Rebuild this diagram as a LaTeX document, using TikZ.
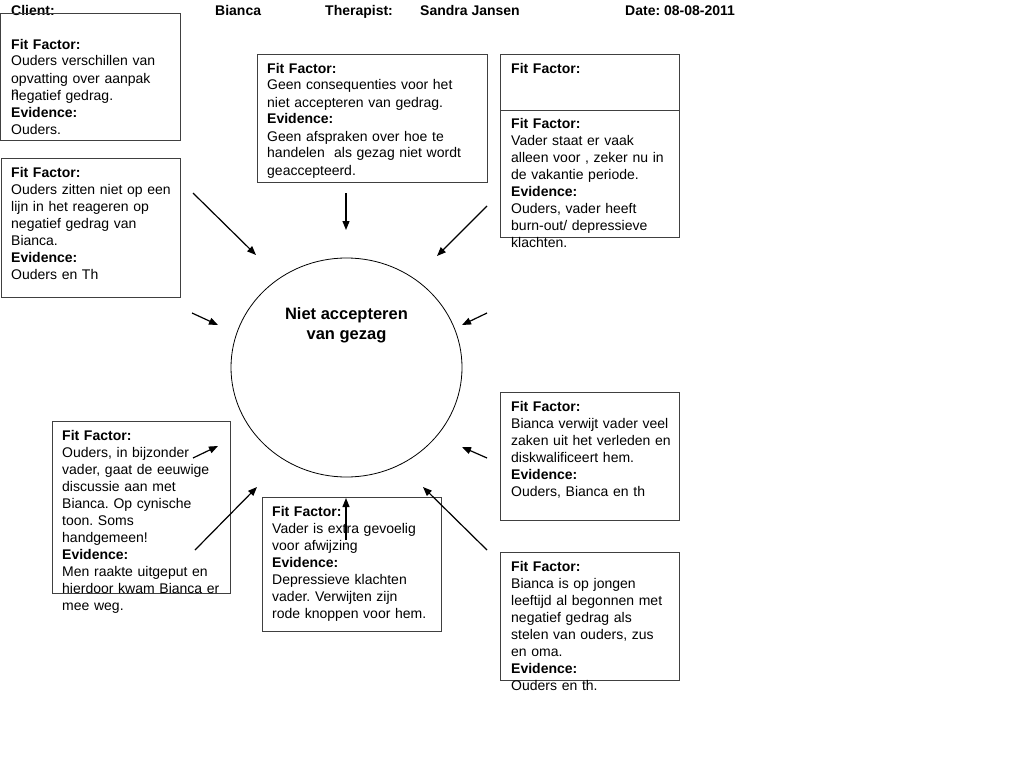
\documentclass[tikz,border=0pt]{standalone}
\usepackage{fontspec}
\setmainfont{Liberation Sans}
\usetikzlibrary{arrows.meta}
\frenchspacing
\tikzset{
  frame/.style={draw=black!75, line width=1.1pt, inner sep=0pt, anchor=north west},
  txt/.style={anchor=base west, inner sep=0pt, text width=215pt, align=left,
    font=\fontsize{14}{17}\selectfont\frenchspacing},
  hdr/.style={anchor=base west, inner sep=0pt, font=\fontsize{14}{17}\selectfont\bfseries},
  arr/.style={draw=black, line width=1.2pt, -{Triangle[length=9pt,width=7pt]}},
}
\begin{document}
\begin{tikzpicture}[x=1pt,y=-1pt]
\useasboundingbox (0,0) rectangle (1024,768);
% header
\node[hdr] (h1) at (11,16) {Client:};
\node[hdr] (h2) at (215,16) {Bianca};
\node[hdr] (h3) at (325,16) {Therapist:};
\node[hdr] (h4) at (420,16) {Sandra Jansen};
\node[hdr] (h5) at (625,16) {Date: 08-08-2011};
% frames
\node[frame, minimum width=180pt, minimum height=127pt] (f1) at (0,13) {};
\node[frame, minimum width=179pt, minimum height=139pt] (f2) at (1,158) {};
\node[frame, minimum width=230pt, minimum height=128pt] (f3) at (257,54) {};
\node[frame, minimum width=179pt, minimum height=56pt] (f4) at (500,54) {};
\node[frame, minimum width=179pt, minimum height=127pt] (f5) at (500,110) {};
\node[frame, minimum width=178pt, minimum height=172pt] (f6) at (52,421) {};
\node[frame, minimum width=179pt, minimum height=134pt] (f7) at (262,497) {};
\node[frame, minimum width=179pt, minimum height=128pt] (f8) at (500,392) {};
\node[frame, minimum width=179pt, minimum height=128pt] (f9) at (500,552) {};
% texts
\node[txt] (t1) at (11,49) {\textbf{Fit Factor:}\\Ouders verschillen van\\opvatting over aanpak\\\leavevmode\rlap{\raisebox{3pt}{n}}negatief gedrag.\\\textbf{Evidence:}\\Ouders.};
\node[txt] (t2) at (11,177) {\textbf{Fit Factor:}\\Ouders zitten niet op een\\lijn in het reageren op\\negatief gedrag van\\Bianca.\\\textbf{Evidence:}\\Ouders en Th};
\node[txt] (t3) at (267,73) {\textbf{Fit Factor:}\\Geen consequenties voor het\\niet accepteren van gedrag.\\\textbf{Evidence:}\\Geen afspraken over hoe te\\handelen\ \ als gezag niet wordt\\geaccepteerd.};
\node[txt] (t4) at (511,73) {\textbf{Fit Factor:}};
\node[txt] (t5) at (511,128) {\textbf{Fit Factor:}\\Vader staat er vaak\\alleen voor , zeker nu in\\de vakantie periode.\\\textbf{Evidence:}\\Ouders, vader heeft\\burn-out/ depressieve\\klachten.};
\node[txt] (t6) at (62,440) {\textbf{Fit Factor:}\\Ouders, in bijzonder\\vader, gaat de eeuwige\\discussie aan met\\Bianca. Op cynische\\toon. Soms\\handgemeen!\\\textbf{Evidence:}\\Men raakte uitgeput en\\hierdoor kwam Bianca er\\mee weg.};
\node[txt] (t7) at (272,516) {\textbf{Fit Factor:}\\Vader is extra gevoelig\\voor afwijzing\\\textbf{Evidence:}\\Depressieve klachten\\vader. Verwijten zijn\\rode knoppen voor hem.};
\node[txt] (t8) at (511,411) {\textbf{Fit Factor:}\\Bianca verwijt vader veel\\zaken uit het verleden en\\diskwalificeert hem.\\\textbf{Evidence:}\\Ouders, Bianca en th};
\node[txt] (t9) at (511,571) {\textbf{Fit Factor:}\\Bianca is op jongen\\leeftijd al begonnen met\\negatief gedrag als\\stelen van ouders, zus\\en oma.\\\textbf{Evidence:}\\Ouders en th.};
% central ellipse
\draw[black, line width=0.8pt] (346.5,367.5) ellipse [x radius=115.5, y radius=109.5];
\coordinate (c) at (346.5,367.5);
\node[anchor=base, inner sep=0pt, align=center, font=\fontsize{16.5}{20}\selectfont\bfseries] (ct) at (346.5,339) {Niet accepteren\\van gezag};
% arrow end points
\coordinate (a1s) at (193,193); \coordinate (a1e) at (256,255);
\coordinate (a2s) at (346,193); \coordinate (a2e) at (346,230);
\coordinate (a3s) at (487,206); \coordinate (a3e) at (437,256);
\coordinate (a4s) at (192,313); \coordinate (a4e) at (218,325);
\coordinate (a5s) at (487,313); \coordinate (a5e) at (462,325);
\coordinate (a6s) at (193,458); \coordinate (a6e) at (218,446);
\coordinate (a7s) at (195,550); \coordinate (a7e) at (257,487);
\coordinate (a8s) at (346,540); \coordinate (a8e) at (346,498);
\coordinate (a9s) at (487,550); \coordinate (a9e) at (423,487);
\coordinate (a10s) at (487,458); \coordinate (a10e) at (462,447);
\foreach \i in {1,...,10} \draw[arr] (a\i s) -- (a\i e);
\end{tikzpicture}
\end{document}
